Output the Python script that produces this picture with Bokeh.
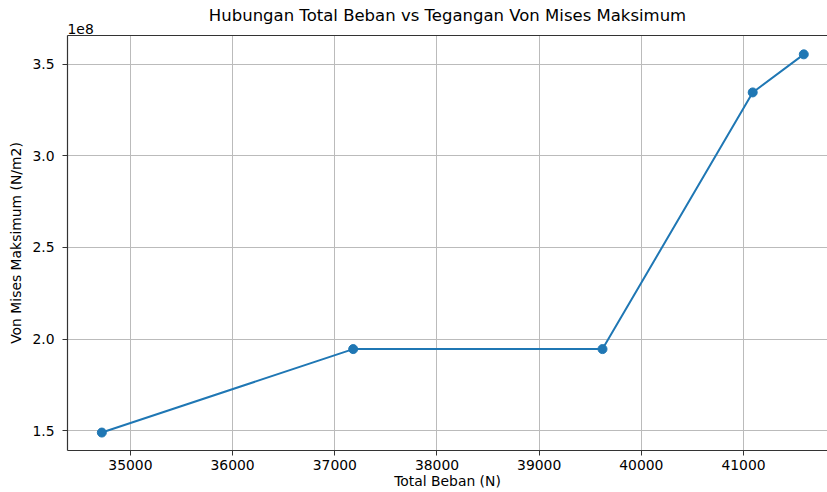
from bokeh.plotting import figure
from bokeh.models import Range1d, FixedTicker, CustomJSTickFormatter, LinearAxis, Title
from bokeh.embed import file_html
from bokeh.resources import INLINE

# Data
total_beban = [34720, 37180, 39620, 41090, 41590]          # N
von_mises = [1.489e8, 1.945e8, 1.945e8, 3.347e8, 3.555e8]  # N/m2

x_ticks = [35000, 36000, 37000, 38000, 39000, 40000, 41000]
y_ticks = [1.5e8, 2.0e8, 2.5e8, 3.0e8, 3.5e8]

FONT = "DejaVu Sans"
BLUE = "#1f77b4"
SPINE = "#333333"

p = figure(width=827, height=492, output_backend="svg", toolbar_location=None,
           x_range=Range1d(34384, 41822), y_range=Range1d(1.391e8, 3.658e8),
           min_border_left=67, min_border_right=0, min_border_bottom=42, min_border_top=35)

xax = p.below[0]
yax = p.left[0]

p.title.text = "Hubungan Total Beban vs Tegangan Von Mises Maksimum"
p.title.align = "center"
p.title.offset = 5
p.title.text_font = FONT
p.title.text_font_size = "16.5px"
p.title.text_font_style = "normal"
p.title.text_color = "black"

p.outline_line_color = None
p.background_fill_color = "white"
p.border_fill_color = "white"

# top spine
top = LinearAxis(major_tick_line_color=None, minor_tick_line_color=None,
                 major_label_text_font_size="0px", axis_line_color=SPINE,
                 major_label_standoff=0, ticker=FixedTicker(ticks=[]))
p.add_layout(top, "above")

# offset text of the y axis (scientific multiplier)
mult = Title(text="1e8", align="left", text_font=FONT, text_font_size="13.9px",
             text_font_style="normal", text_color="black", standoff=3)
p.add_layout(mult, "above")
p.title.standoff = -9

for ax in (xax, yax):
    ax.axis_line_color = SPINE
    ax.axis_line_width = 1.2
    ax.major_tick_line_color = SPINE
    ax.major_tick_out = 5
    ax.major_tick_in = 0
    ax.minor_tick_line_color = None
    ax.major_label_text_font = FONT
    ax.major_label_text_font_size = "13.9px"
    ax.major_label_text_color = "black"
    ax.axis_label_text_font = FONT
    ax.axis_label_text_font_size = "13.9px"
    ax.axis_label_text_font_style = "normal"
    ax.axis_label_text_color = "black"

xax.ticker = FixedTicker(ticks=x_ticks)
xax.axis_label = "Total Beban (N)"
xax.major_label_standoff = 4
xax.axis_label_standoff = 0

yax.ticker = FixedTicker(ticks=y_ticks)
yax.formatter = CustomJSTickFormatter(code="return (tick/1e8).toFixed(1);")
yax.axis_label = "Von Mises Maksimum (N/m2)"
yax.major_label_standoff = 8
yax.axis_label_standoff = 5

p.xgrid[0].ticker = FixedTicker(ticks=x_ticks)
p.ygrid[0].ticker = FixedTicker(ticks=y_ticks)
for g in (p.xgrid[0], p.ygrid[0]):
    g.grid_line_color = "#bbbbbb"
    g.grid_line_width = 1

p.line(total_beban, von_mises, line_color=BLUE, line_width=2)
p.scatter(total_beban, von_mises, size=9, fill_color=BLUE, line_color=BLUE)

open("out.html", "w").write(file_html(p, INLINE))
